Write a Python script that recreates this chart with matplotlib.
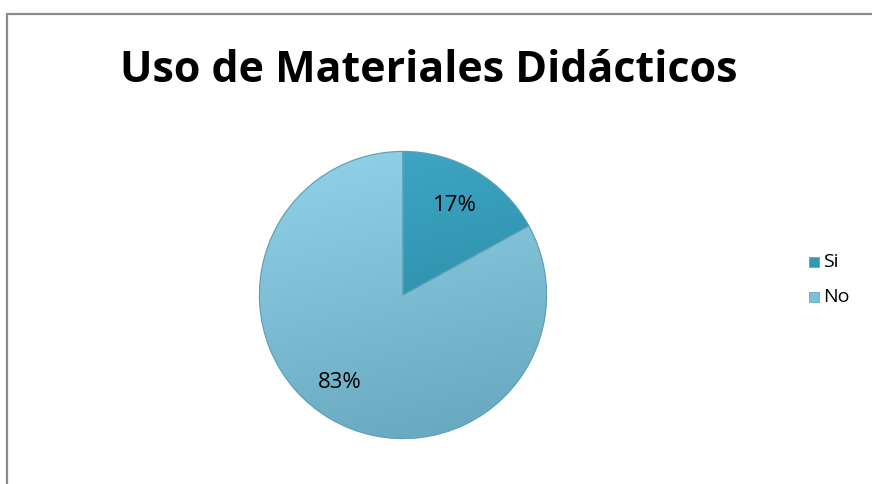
import matplotlib
matplotlib.use("Agg")
import matplotlib.pyplot as plt
import numpy as np
from matplotlib.patches import Rectangle

title = "Uso de Materiales Didácticos"
categories = ["Si", "No"]
values = [17, 83]
labels_pct = ["17%", "83%"]
colors = ["#3199B5", "#7CC0D8"]
grad_top = ["#3FAAC8", "#92D3EA"]
grad_bot = ["#237F99", "#65A6BC"]

W, H = 872, 484
fig = plt.figure(figsize=(W / 100, H / 100), dpi=100)
fig.patch.set_facecolor("white")

# frame border
fig.add_artist(Rectangle((7 / W, -0.02), 1.0, (H - 14) / H + 0.02, transform=fig.transFigure,
                         fill=False, edgecolor="#8C8C8C", linewidth=1.6))

fig.text(429 / W, 1 - 70 / H, title, ha="center", va="center", fontsize=31,
         fontweight="bold", family="Open Sans", color="black")

cx, cy, r = 403, 295, 145
ax = fig.add_axes([(cx - r) / W, (H - cy - r) / H, 2 * r / W, 2 * r / H])
wedges, texts = ax.pie(values, colors=colors, startangle=90, counterclock=False,
                       radius=1.0, wedgeprops=dict(edgecolor="#B8E3F1", linewidth=0.8),
                       labels=labels_pct, labeldistance=0.55,
                       textprops=dict(fontsize=16, family="Open Sans", color="black"))
# nudge label positions to match reference
texts[0].set_position((0.36, 0.62))
texts[1].set_position((-0.44, -0.61))
for t in texts:
    t.set_ha("center")
    t.set_va("center")

# gradient shading clipped to wedges
yy = np.linspace(1, -1, 200)[:, None] * np.ones((1, 200))
xx = np.ones((200, 1)) * np.linspace(-1, 1, 200)[None, :]
for w, ct, cb in zip(wedges, grad_top, grad_bot):
    t = np.clip((1 - yy) / 2 * 0.8 + (xx + 1) / 2 * 0.2, 0, 1)
    c1 = np.array(matplotlib.colors.to_rgb(ct))
    c2 = np.array(matplotlib.colors.to_rgb(cb))
    img = c1[None, None, :] * (1 - t[..., None]) + c2[None, None, :] * t[..., None]
    im = ax.imshow(img, extent=(-1, 1, -1, 1), zorder=1.5, interpolation="bilinear")
    im.set_clip_path(w)
    # redraw edge on top
    e = matplotlib.patches.Wedge(w.center, w.r, w.theta1, w.theta2, fill=False,
                                 edgecolor="#5E9FB4", linewidth=0.8, zorder=2)
    ax.add_patch(e)
for t in texts:
    t.set_zorder(5)
ax.set_xlim(-1.01, 1.01)
ax.set_ylim(-1.01, 1.01)
ax.set_aspect("equal")
ax.axis("off")

# legend
for i, (cat, col) in enumerate(zip(categories, colors)):
    y = 262 + i * 35
    fig.add_artist(Rectangle((809 / W, 1 - (y + 5) / H), 10 / W, 10 / H,
                             transform=fig.transFigure, facecolor=col,
                             edgecolor="#5EA9C0", linewidth=0.6))
    fig.text(823 / W, 1 - y / H, cat, ha="left", va="center", fontsize=14,
             family="Open Sans", color="black")

fig.savefig("out.png", dpi=100, facecolor="white")
